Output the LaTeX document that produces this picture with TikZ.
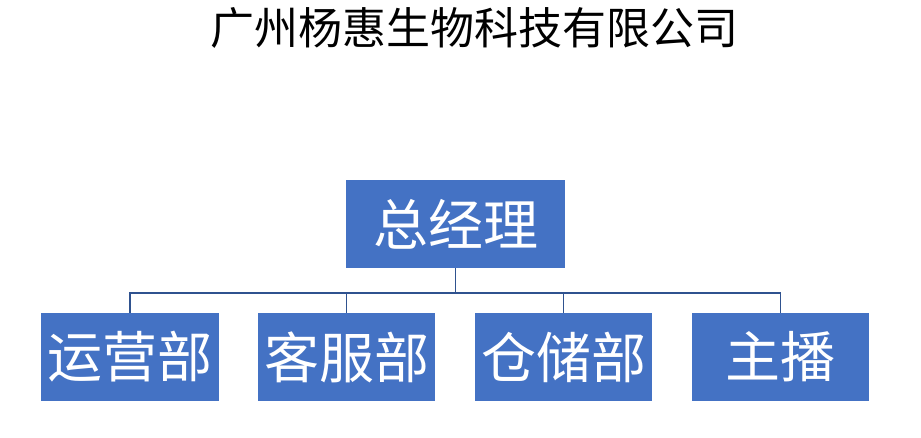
\documentclass[tikz,border=0pt]{standalone}
\usepackage{fontspec}
\newfontfamily\cjk{Noto Sans CJK SC}
\definecolor{boxblue}{HTML}{4472C4}
\definecolor{linkblue}{HTML}{2F528F}
\begin{document}
\begin{tikzpicture}[x=1pt,y=-1pt,
  orgbox/.style={fill=boxblue,draw=none,inner sep=0pt,text=white,font=\cjk\fontsize{55}{60}\selectfont},
  link/.style={draw=linkblue,line width=1.8pt}]
\useasboundingbox (0,0) rectangle (921,438);
\fill[white] (0,0) rectangle (921,438);
\node[font=\cjk\fontsize{44}{48}\selectfont] (title) at (474,28) {广州杨惠生物科技有限公司};
\node[orgbox,minimum width=219pt,minimum height=88pt] (gm) at (455.5,224) {总经理};
\node[orgbox,minimum width=178pt,minimum height=88pt] (a) at (130,357) {运营部};
\node[orgbox,minimum width=177pt,minimum height=88pt] (b) at (346.5,357) {客服部};
\node[orgbox,minimum width=177pt,minimum height=88pt] (c) at (563.5,357) {仓储部};
\node[orgbox,minimum width=177pt,minimum height=88pt] (d) at (780.5,357) {主播};
\coordinate (bar) at (455.5,293);
\draw[link] (gm.south) -- (bar);
\draw[link] (a.north) -- (a.north |- bar) -- (d.north |- bar) -- (d.north);
\draw[link] (b.north) -- (b.north |- bar);
\draw[link] (c.north) -- (c.north |- bar);
\end{tikzpicture}
\end{document}
